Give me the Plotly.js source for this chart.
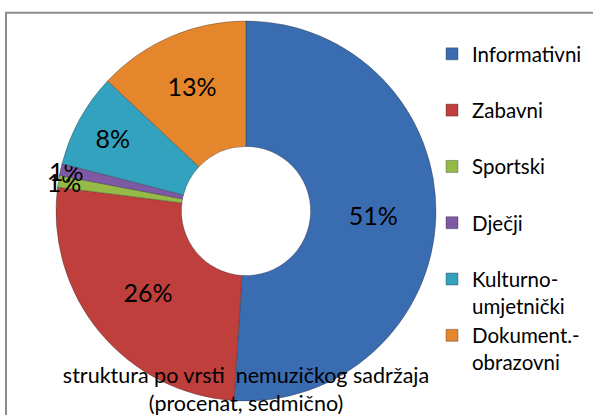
<!DOCTYPE html>
<html>
<head>
<meta charset="utf-8">
<script src="https://cdn.plot.ly/plotly-3.0.1.min.js"></script>
<style>html,body{margin:0;padding:0;background:#fff;}#chart{width:593px;height:415px;}</style>
</head>
<body>
<div id="chart"></div>
<script>
const categories = ["Informativni", "Zabavni", "Sportski", "Dječji", "Kulturno-umjetnički", "Dokument.-obrazovni"];
const legendLabels = ["Informativni<br> ", "Zabavni<br> ", "Sportski<br> ", "Dječji<br> ", "Kulturno-<br>umjetnički", "Dokument.-<br>obrazovni"];
const percentValues = [51, 26, 1, 1, 8, 13];
const sliceColors = ["#3a6cb2", "#bf3f3c", "#95ba48", "#7d5aa3", "#33a2bf", "#e6862c"];
const chartTitle = "struktura po vrsti  nemuzičkog sadržaja<br>(procenat, sedmično)";

const W = 593, H = 415;
const cx = 246, cy = 211, R = 190;

const trace = {
  type: "pie",
  labels: legendLabels,
  values: percentValues,
  sort: false,
  direction: "clockwise",
  rotation: 0,
  hole: 0.34,
  marker: {colors: sliceColors, line: {color: "rgba(40,40,40,0.35)", width: 1}},
  textinfo: "percent",
  texttemplate: "%{value}%",
  textposition: "inside",
  insidetextorientation: "horizontal",
  textfont: {family: "Lato, 'Open Sans', sans-serif", size: 25, color: "#000"},
  domain: {x: [(cx - R) / W, (cx + R) / W], y: [(H - cy - R) / H, (H - cy + R) / H]},
  hoverinfo: "none"
};

const layout = {
  width: W, height: H,
  margin: {l: 0, r: 0, t: 0, b: 0},
  paper_bgcolor: "#fff",
  showlegend: true,
  uniformtext: {mode: "show", minsize: 25},
  legend: {
    x: 432 / W, xanchor: "left",
    y: 1 - 34 / H, yanchor: "top",
    valign: "top",
    font: {family: "Lato, 'Open Sans', sans-serif", size: 20.5, color: "#000"},
    bgcolor: "rgba(0,0,0,0)"
  },
  title: {
    text: chartTitle,
    font: {family: "Lato, 'Open Sans', sans-serif", size: 21.5, color: "#000"},
    x: 246 / W, xanchor: "center", xref: "container",
    y: 1 - 383 / H, yanchor: "top", yref: "container"
  },
  shapes: [{
    type: "rect", xref: "paper", yref: "paper", layer: "below",
    x0: 6 / W, x1: 1.02, y0: -0.02, y1: 1 - 12.7 / H,
    line: {color: "#8c8c8c", width: 2}
  }]
};

Plotly.newPlot("chart", [trace], layout, {displayModeBar: false, staticPlot: true});
</script>
</body>
</html>
